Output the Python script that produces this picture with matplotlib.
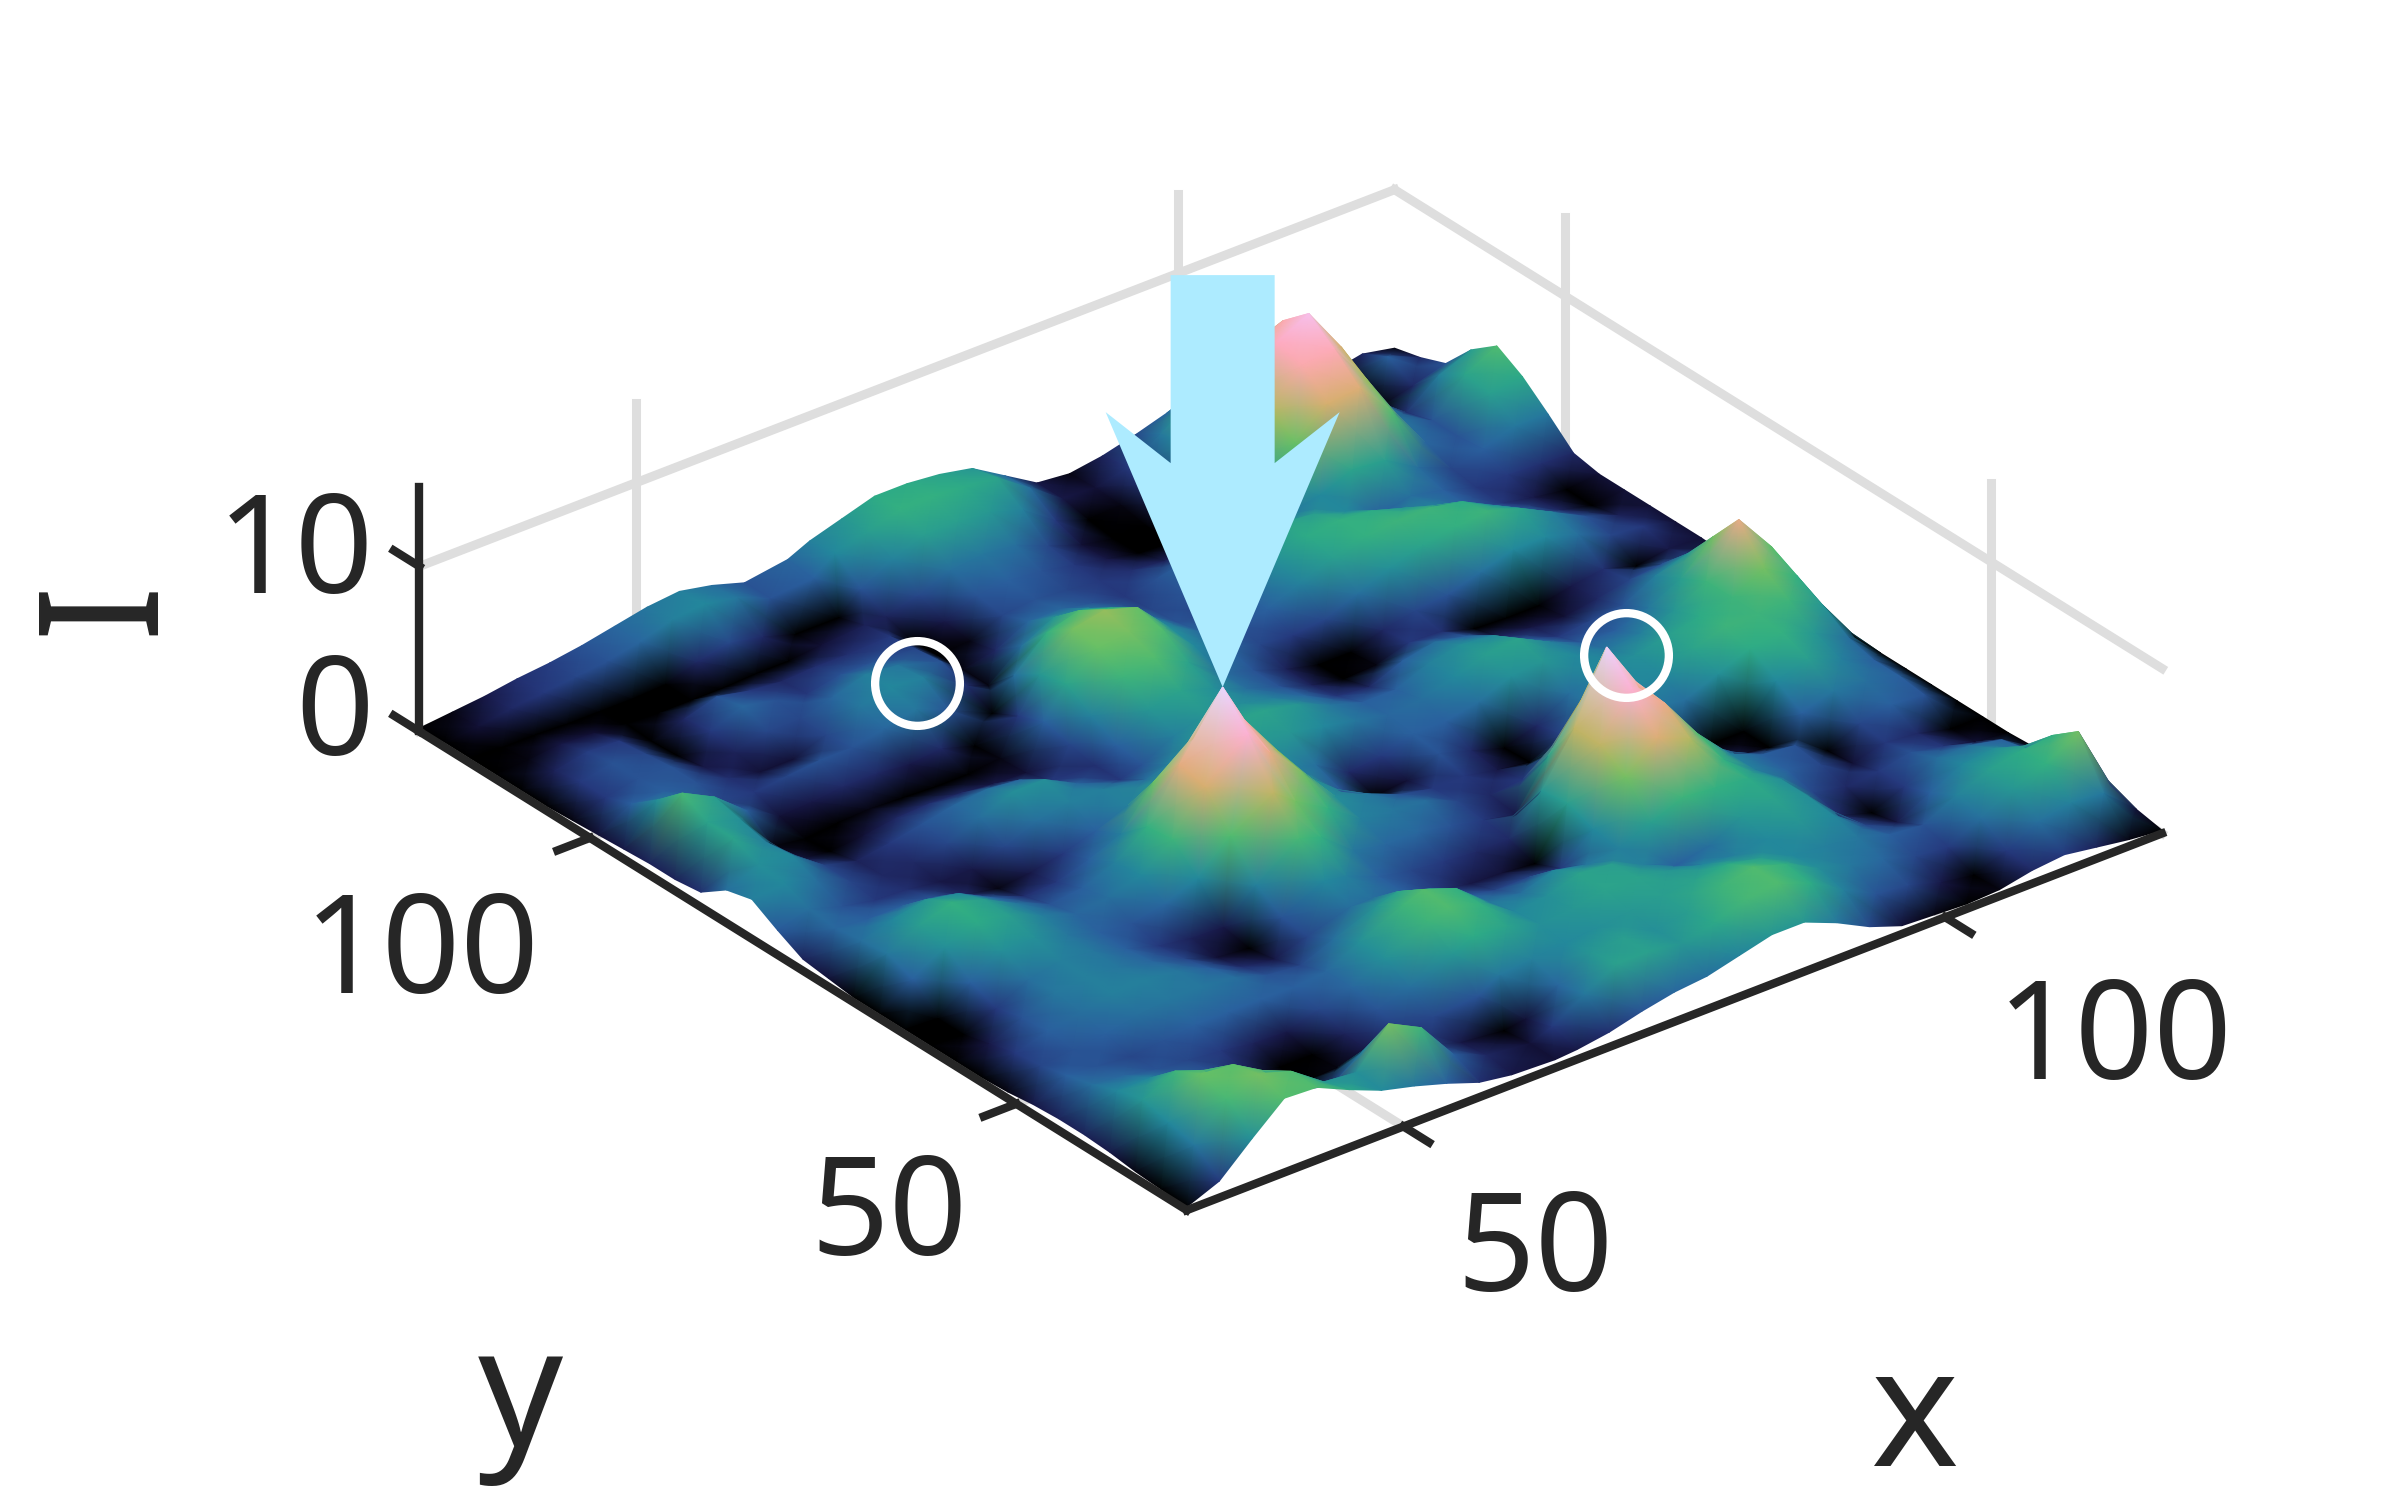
import matplotlib
matplotlib.use('Agg')
import matplotlib.pyplot as plt
import numpy as np
from matplotlib.collections import QuadMesh
from matplotlib.colors import LinearSegmentedColormap, Normalize
from matplotlib.patches import Polygon
from matplotlib.transforms import IdentityTransform
from mpl_toolkits.mplot3d import proj3d

plt.rcParams['font.family'] = ['Noto Sans', 'DejaVu Sans']

# Grid
x_values = [30, 33, 36, 39, 42, 45, 48, 51, 54, 57, 60, 64, 66, 69, 72, 75, 78, 81, 84, 87, 90, 93, 96, 99, 102, 105, 108, 111, 114, 117, 120]
y_values = list(range(30, 121, 3))

# Intensity, one row per y value
intensity = [
    [.2,1.0,2.8,4.5,4.4,3.5,2.7,2.2,1.6,.9,.6,.5,.6,.9,1.4,1.8,2.0,2.5,3.0,3.0,2.2,1.2,.5,.4,.3,.4,.8,1.0,.7,.4,.2],
    [.3,2.2,4.2,5.0,4.4,3.0,2.8,5.0,4.0,1.6,.8,.5,1.0,2.2,3.3,3.3,3.0,3.5,4.2,4.4,3.6,2.4,1.4,1.2,.6,.3,1.0,2.0,2.4,2.2,.5],
    [.4,2.6,4.8,4.6,3.4,1.6,1.0,2.4,2.2,1.2,.6,.3,.5,1.8,3.0,3.2,2.8,3.2,4.0,4.4,3.8,2.8,2.2,1.8,1.2,1.0,2.0,3.0,3.8,5.0,1.0],
    [.6,3.0,4.0,3.2,2.0,.8,.3,.4,.6,1.0,1.2,1.4,2.2,2.4,2.6,2.8,3.0,3.2,3.4,3.6,3.2,2.6,2.4,2.2,1.6,1.4,2.4,3.2,3.6,3.8,.8],
    [.7,2.6,2.6,2.0,1.4,.7,.2,.2,.7,1.4,2.0,3.0,3.6,3.4,2.8,3.0,3.4,3.4,3.0,2.6,2.4,2.6,3.0,2.6,1.2,.6,1.6,2.6,2.8,2.0,.5],
    [.7,2.0,1.8,1.4,1.2,1.0,.7,.6,1.2,1.8,2.8,4.0,4.4,3.8,2.6,2.8,3.4,3.2,2.4,1.6,2.0,3.0,3.4,2.8,.8,.2,1.0,2.0,2.0,1.6,.4],
    [.6,1.6,1.4,1.2,1.4,1.6,1.6,1.6,1.6,1.8,2.8,4.0,4.5,3.8,2.2,2.0,2.6,2.2,2.4,3.2,4.0,3.8,3.6,2.8,1.2,.8,1.0,1.4,1.0,.5,.3],
    [.4,1.2,1.4,1.6,2.0,2.2,2.2,2.0,1.4,1.2,2.0,3.0,3.4,2.8,1.6,1.2,1.2,1.0,2.6,5.0,6.6,5.8,3.8,2.4,1.6,1.2,.5,1.0,.8,.3,.3],
    [.3,1.0,1.6,2.0,2.4,2.4,2.2,1.6,.9,.6,1.2,2.0,2.0,1.6,1.0,.6,.5,.3,3.2,6.0,8.6,7.0,4.4,2.4,1.6,1.4,.3,1.2,1.6,1.4,.3],
    [.3,.6,1.4,2.2,2.4,2.2,1.8,1.2,.5,.3,1.4,2.6,2.4,1.6,1.2,1.0,.8,.8,3.0,6.0,10.2,7.0,4.2,2.0,.6,.3,1.6,2.2,2.0,1.6,.3],
    [.3,.2,1.0,2.0,2.4,2.2,1.6,1.0,.7,.6,2.4,4.2,3.8,2.2,1.8,1.8,1.4,1.0,.6,3.4,6.0,4.4,2.6,1.4,.3,.3,2.6,3.2,2.4,1.6,.3],
    [.3,.2,1.6,2.8,2.8,2.2,1.6,1.4,1.8,2.6,4.4,6.0,5.0,3.8,2.4,2.2,2.0,1.2,.8,1.0,2.0,2.4,2.4,2.2,2.0,2.8,3.6,3.8,3.0,2.0,.3],
    [.3,1.6,2.8,3.6,3.2,2.4,1.8,2.0,2.6,4.0,6.4,8.6,7.0,5.0,2.8,2.2,1.4,1.0,1.0,.6,.3,1.2,2.2,2.6,2.6,3.4,4.0,4.0,4.0,3.0,.3],
    [.3,2.2,3.2,3.8,3.2,2.2,1.4,1.6,2.4,3.8,6.8,10.5,8.0,5.4,3.0,1.4,.3,.5,1.4,.8,.2,.8,2.0,2.6,2.8,3.2,3.6,4.0,5.0,3.8,.4],
    [.5,2.0,2.6,3.0,2.6,1.6,.9,1.0,1.6,2.4,4.8,6.6,5.4,3.8,2.6,2.0,.8,1.0,1.6,1.6,2.0,2.8,3.0,2.6,2.2,2.4,3.0,4.0,7.0,4.6,.4],
    [.7,1.8,1.6,1.6,1.4,.8,.4,.6,1.0,1.6,2.4,3.2,3.4,2.8,3.0,3.0,2.6,2.2,1.8,2.0,2.6,3.2,3.4,2.4,1.6,1.6,2.2,3.2,5.0,3.6,.4],
    [1.5,2.0,1.4,1.0,.9,.6,.6,1.2,2.0,2.4,2.4,2.0,2.4,3.0,3.4,3.4,3.0,2.2,1.6,1.6,2.4,2.8,2.6,1.6,1.0,1.2,1.4,2.4,3.0,2.4,.4],
    [2.4,2.6,2.0,1.2,.8,.8,1.2,2.0,2.8,2.8,1.8,1.0,1.4,2.4,3.0,2.8,2.4,1.8,1.0,.8,1.6,2.0,1.6,.8,.6,.5,.8,1.2,1.4,1.2,.4],
    [2.0,2.8,2.6,1.2,.7,1.0,1.4,1.8,2.0,1.8,1.0,.9,1.6,3.0,3.4,2.8,2.0,1.4,.7,.3,.4,1.0,.9,.3,.2,.2,.6,.9,.3,.6,.5],
    [.9,3.4,2.4,.6,.3,.5,.8,.9,.8,.6,.5,1.2,2.4,4.0,4.4,3.4,2.0,1.4,.7,.2,.2,.8,1.2,1.4,2.0,2.6,2.6,2.0,1.2,1.0,.5],
    [.7,3.4,2.8,.4,.1,.3,.4,.3,.2,.2,.4,1.6,3.4,4.8,5.0,4.4,2.6,1.8,1.2,1.0,1.2,2.0,2.8,3.4,3.8,4.0,3.4,2.4,1.4,.7,.5],
    [.7,4.2,3.2,1.6,.5,.6,.8,.8,.6,.8,.2,1.0,3.0,5.0,5.4,4.8,2.8,1.8,1.4,1.6,2.4,3.2,3.8,4.0,4.0,3.6,2.6,1.6,.8,.3,.5],
    [.6,2.8,2.2,1.2,1.0,1.2,1.4,1.4,1.8,2.2,1.4,.2,2.0,3.8,4.4,3.8,2.6,1.4,1.2,1.8,2.8,3.6,3.8,3.6,3.0,2.4,1.6,1.0,.6,.3,.5],
    [.5,1.6,1.6,1.4,.9,.5,.5,1.2,2.2,2.6,2.4,.9,.4,2.0,3.0,2.8,2.0,1.2,1.4,2.2,3.0,3.4,3.2,2.6,1.6,2.0,1.6,1.0,1.0,.9,.8],
    [.4,1.0,1.4,1.4,.6,.7,1.2,1.2,1.8,2.4,2.2,1.4,.4,.8,1.8,1.8,1.4,1.0,1.4,1.8,2.0,2.0,2.2,2.6,3.4,3.2,2.0,1.2,1.6,2.2,2.2],
    [.3,1.0,1.4,1.2,.3,1.0,1.8,1.4,1.0,1.4,1.4,1.2,.3,.4,1.2,1.4,1.2,1.0,.9,.7,.7,1.4,3.0,4.8,6.4,6.6,4.4,1.8,1.4,3.2,3.5],
    [.3,.7,1.1,1.0,.2,.8,1.4,1.0,.8,.9,.9,1.0,.2,.6,1.4,1.6,1.4,1.0,.6,.2,.1,.8,3.2,5.8,7.8,8.0,5.4,2.2,1.4,3.4,4.4],
    [.3,.4,.6,.5,.3,.2,.2,.2,.3,.3,.5,.7,.7,1.2,2.0,2.2,2.0,1.2,.5,.1,.1,.7,3.0,5.6,8.2,9.2,6.4,2.4,.9,2.4,3.2],
    [.3,.2,.2,.1,.1,.1,.2,.8,1.2,.8,.2,.2,1.4,2.4,3.2,3.2,3.0,2.4,1.0,.3,.4,1.0,2.8,5.0,7.0,7.8,5.4,2.2,.3,.8,1.4],
    [.3,.5,.8,1.0,1.2,1.4,1.8,2.4,2.6,2.2,1.4,1.6,2.6,3.2,3.8,3.8,3.6,3.4,2.0,.6,.5,1.0,2.2,3.6,5.0,5.6,3.8,1.8,.3,1.6,.8],
    [.2,.4,.6,.9,1.1,1.4,1.8,2.2,2.4,2.0,1.4,1.8,2.4,3.0,3.6,3.6,3.4,3.0,1.8,.6,.4,.7,1.2,1.8,2.6,3.0,2.2,1.2,.4,.8,.4],
]

x_ticks = [50, 100]
y_ticks = [50, 100]
z_ticks = [0, 10]
z_top = 14.8

# Peaks that are marked in the picture
circled_points = [(59, 98.5, 2.5), (91, 56, 9.8)]
arrow_point = (64, 69, 10.5)

# Colours from low to high intensity
color_stops = [(0.0, '#000000'), (0.03, '#000000'), (0.05, '#15143f'), (0.09, '#25357a'), (0.15, '#2a5f9e'),
               (0.25, '#23899c'), (0.35, '#2fae84'), (0.45, '#5fc067'), (0.52, '#9dbd5c'), (0.6, '#d2b06a'),
               (0.7, '#f8a896'), (0.8, '#ffaccb'), (0.9, '#f5c6f5'), (1.0, '#e8d8ff')]
cmap = LinearSegmentedColormap.from_list('peaks', color_stops, N=256)

W, H = 2391, 1497
SIDE = 1900
CENTER = (1265, 686)
DARK = '#262626'
GRID = '#dedede'
fig = plt.figure(figsize=(W / 100, H / 100), dpi=100)

x0, x1 = min(x_values), max(x_values)
y0, y1 = min(y_values), max(y_values)

def new_axes(zorder):
    rect = [(CENTER[0] - SIDE / 2) / W, (H - CENTER[1] - SIDE / 2) / H, SIDE / W, SIDE / H]
    ax = fig.add_axes(rect, projection='3d', computed_zorder=False, proj_type='ortho', zorder=zorder)
    ax.view_init(elev=29.4, azim=-128.2)
    ax.set_box_aspect((1, 1, 0.226), zoom=0.908)
    ax.set_xlim(x0, x1)
    ax.set_ylim(y0, y1)
    ax.set_zlim(0, z_top)
    ax.set_axis_off()
    ax.patch.set_visible(False)
    return ax

# Back layer, the grid lines on the floor and the two walls
ax_back = new_axes(1)
for z in z_ticks:
    ax_back.plot([x0, x1], [y1, y1], [z, z], color=GRID, lw=6.5)
    ax_back.plot([x1, x1], [y0, y1], [z, z], color=GRID, lw=6.5)
for t in x_ticks:
    ax_back.plot([t, t], [y1, y1], [0, z_top], color=GRID, lw=6.5)
    ax_back.plot([t, t], [y0, y1], [0, 0], color=GRID, lw=6.5)
for t in y_ticks:
    ax_back.plot([x1, x1], [t, t], [0, z_top], color=GRID, lw=6.5)
    ax_back.plot([x0, x1], [t, t], [0, 0], color=GRID, lw=6.5)

# Front layer, axis lines, ticks and circles
ax_front = new_axes(3)
ax_front.plot([x0, x1], [y0, y0], [0, 0], color=DARK, lw=6)
ax_front.plot([x0, x0], [y0, y1], [0, 0], color=DARK, lw=6)
ax_front.plot([x0, x0], [y1, y1], [0, z_top], color=DARK, lw=6)
for t in x_ticks:
    ax_front.plot([t, t], [y0, y0 - 3], [0, 0], color=DARK, lw=6)
for t in y_ticks:
    ax_front.plot([x0, x0 - 3], [t, t], [0, 0], color=DARK, lw=6)
for t in z_ticks:
    ax_front.plot([x0, x0], [y1, y1 + 3], [t, t], color=DARK, lw=6)
for p in circled_points:
    ax_front.plot([p[0]], [p[1]], [p[2]], marker='o', ms=61, mfc='none', mec='white', mew=6)

fig.canvas.draw()

def to_pixels(x, y, z):
    px, py, _ = proj3d.proj_transform(x, y, z, ax_back.get_proj())
    return ax_back.transData.transform(np.column_stack([np.ravel(px), np.ravel(py)]))

# The surface, far rows first, the colour runs smoothly between the grid points
X, Y = np.meshgrid(x_values, y_values)
Z = np.array(intensity)
X, Y, Z = X[::-1, ::-1], Y[::-1, ::-1], Z[::-1, ::-1]
coords = to_pixels(X.ravel(), Y.ravel(), Z.ravel()).reshape(Z.shape + (2,))
surface = QuadMesh(coords, shading='gouraud', cmap=cmap, norm=Normalize(0, 10.5), transform=IdentityTransform(),
                   antialiased=False, zorder=2)
surface.set_array(Z)
fig.add_artist(surface)

# Tick labels and axis labels
def put_text(px, py, s, size, rotation=0):
    fig.text(px / W, 1 - py / H, s, fontsize=size, color=DARK, ha='center', va='center', rotation=rotation, zorder=5)

put_text(295, 557, '10', 99)
put_text(335, 720, '0', 99)
put_text(422, 958, '100', 99)
put_text(889, 1219, '50', 99)
put_text(1535, 1255, '50', 99)
put_text(2115, 1043, '100', 99)
put_text(1915, 1423, 'x', 120)
put_text(520, 1402, 'y', 120)
put_text(109, 607, 'I', 120, rotation=90)

# Arrow pointing down at the main peak, sizes in pixels
tip = to_pixels(*arrow_point)[0]
arrow_shape = np.array([(0, 0), (117, 275), (52, 224), (52, 412), (-52, 412), (-52, 224), (-117, 275)])
fig.add_artist(Polygon(tip + arrow_shape, closed=True, facecolor='#adebff', edgecolor='none',
                       transform=IdentityTransform(), zorder=10))

fig.savefig('out.png', dpi=100)
